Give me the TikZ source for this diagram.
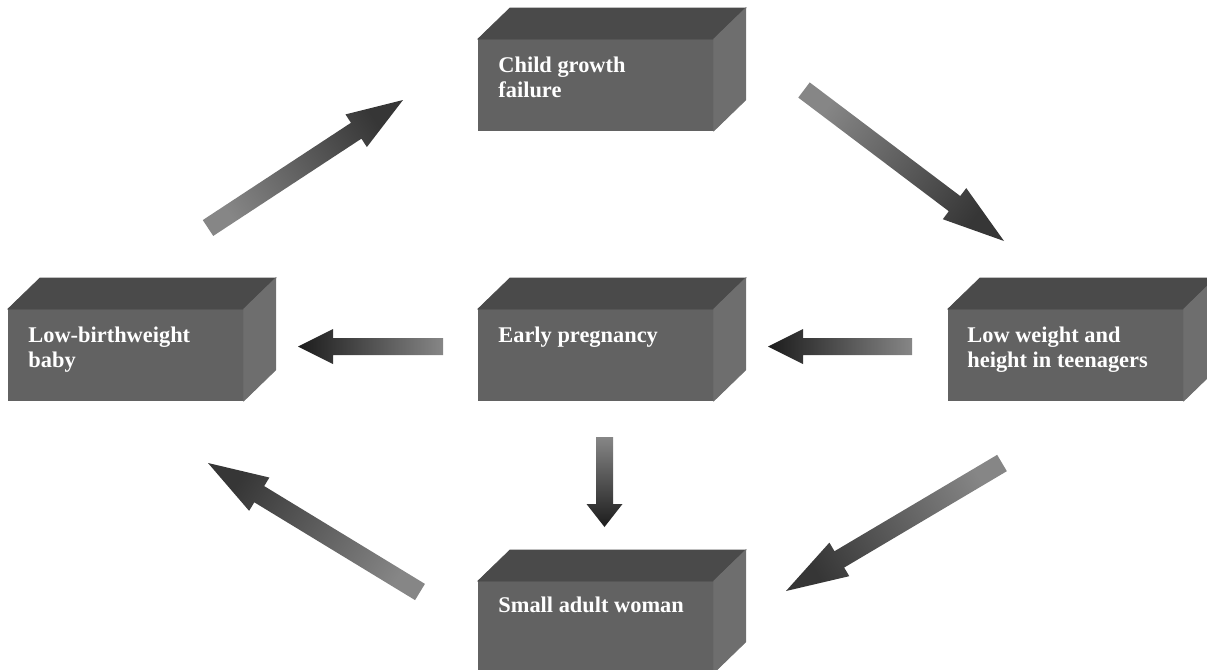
\documentclass[tikz,border=0pt]{standalone}
\usepackage{fontspec}
\setmainfont{Liberation Serif}
\usetikzlibrary{calc,positioning}
\definecolor{boxfront}{HTML}{626262}
\definecolor{boxtop}{HTML}{4A4A4A}
\definecolor{boxside}{HTML}{6E6E6E}
\definecolor{arrowhead}{HTML}{363636}
\definecolor{arrowtail}{HTML}{868686}
\definecolor{darkhead}{HTML}{1C1C1C}

% block arrow: [style]{tail}{tip}{head length}{shaft half width}{head half width}{shading angle}
\newcommand{\blockarrow}[7][]{%
  \coordinate (ab) at ($(#3)!#4!(#2)$);
  \shade[#1, shading angle=#7]
    ($(#2)!#5!90:(#3)$) -- ($(ab)!#5!90:(#3)$) -- ($(ab)!#6!90:(#3)$) -- (#3)
    -- ($(ab)!#6!-90:(#3)$) -- ($(ab)!#5!-90:(#3)$) -- ($(#2)!#5!-90:(#3)$) -- cycle;
}
% top and side faces of a box whose front is node #1
\newcommand{\cuboid}[1]{%
  \filldraw[boxtop, line width=0.4pt] (#1.north west) -- ++(32,-31) -- ($(#1.north east)+(32,-31)$) -- (#1.north east) -- cycle;
  \filldraw[boxside, line width=0.4pt] (#1.north east) -- ++(32,-31) -- ($(#1.south east)+(32,-31)$) -- (#1.south east) -- cycle;
}

\begin{document}
\begin{tikzpicture}[x=0.5pt, y=-0.5pt,
  front/.style={fill=boxfront, draw=boxfront, line width=0.4pt, minimum width=117.5pt, minimum height=45.5pt, anchor=north west, inner sep=0pt},
  caption/.style={text=white, font=\bfseries\fontsize{11.2}{12.5}\selectfont, align=left, anchor=north west, inner sep=0pt},
  diag/.style={top color=arrowhead, bottom color=arrowtail},
  straight/.style={top color=darkhead, bottom color=arrowtail}
]
  \useasboundingbox (0,0) rectangle (1207,670);

  % boxes
  \node[front] (child) at (478,39) {};
  \node[front] (baby) at (8,309) {};
  \node[front] (pregnancy) at (478,309) {};
  \node[front] (teen) at (948,309) {};
  \node[front] (woman) at (478,581) {};
  \foreach \b in {child,baby,pregnancy,teen,woman} {\cuboid{\b}}

  \node[caption] (childtxt) at ($(child.north west)+(20,18)$) {Child growth\\failure};
  \node[caption] (babytxt) at ($(baby.north west)+(20,18)$) {Low-birthweight\\baby};
  \node[caption] (pregnancytxt) at ($(pregnancy.north west)+(20,18)$) {Early pregnancy};
  \node[caption] (teentxt) at ($(teen.north west)+(19,18)$) {Low weight and\\height in teenagers};
  \node[caption] (womantxt) at ($(woman.north west)+(20,16)$) {Small adult woman};

  % arrow ends
  \coordinate (bc1) at (208,228);   \coordinate (bc2) at (403,100);
  \coordinate (ct1) at (804,90);    \coordinate (ct2) at (1004,241);
  \coordinate (tp1) at (912,346.5); \coordinate (tp2) at (768,346.5);
  \coordinate (pb1) at (443,346.5); \coordinate (pb2) at (298,346.5);
  \coordinate (pw1) at (604.5,437); \coordinate (pw2) at (604.5,527);
  \coordinate (tw1) at (1002,463);  \coordinate (tw2) at (786,591);
  \coordinate (wb1) at (420,592);   \coordinate (wb2) at (208,463);

  \blockarrow[diag]{bc1}{bc2}{28pt}{4.75pt}{9.75pt}{-56.7}
  \blockarrow[diag]{ct1}{ct2}{31pt}{4.75pt}{9.75pt}{-127.1}
  \blockarrow[straight]{tp1}{tp2}{17.5pt}{4.25pt}{8.75pt}{90}
  \blockarrow[straight]{pb1}{pb2}{17.5pt}{4.25pt}{8.75pt}{90}
  \blockarrow[straight]{pw1}{pw2}{11.5pt}{4.25pt}{9pt}{180}
  \blockarrow[diag]{tw1}{tw2}{31pt}{4.75pt}{9.75pt}{120.6}
  \blockarrow[diag]{wb1}{wb2}{30pt}{4.75pt}{9.75pt}{58.7}
\end{tikzpicture}
\end{document}
